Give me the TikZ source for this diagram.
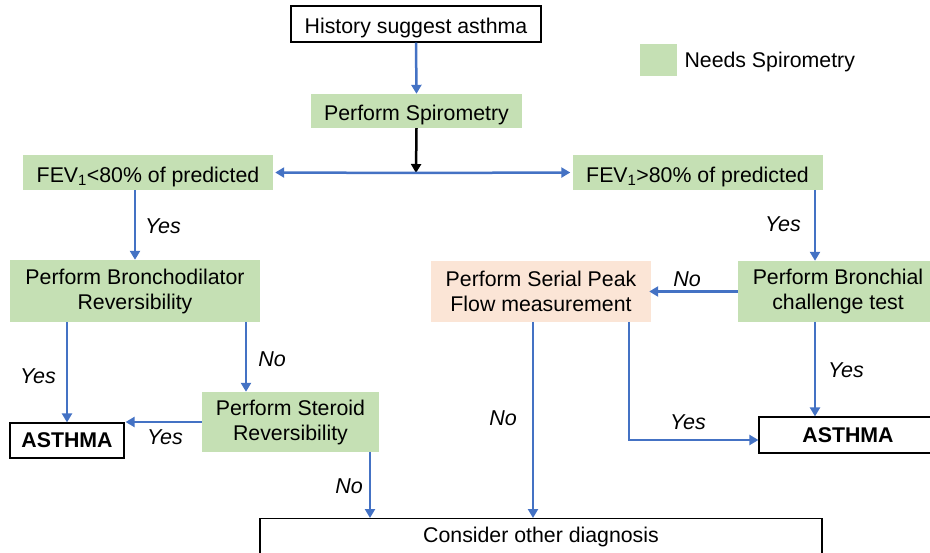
\documentclass[tikz,border=0pt]{standalone}
\usepackage{fontspec}
\setmainfont{Liberation Sans}
\usetikzlibrary{arrows.meta}
\definecolor{boxgreen}{RGB}{197,224,180}
\definecolor{boxpeach}{RGB}{251,229,214}
\definecolor{arrblue}{RGB}{68,114,196}
\begin{document}
\begin{tikzpicture}[x=1pt,y=-1pt,
  txt/.style={font=\fontsize{21.3}{25}\selectfont},
  lbl/.style={font=\fontsize{21.5}{25}\selectfont\itshape},
  oneline/.style={text height=20pt,text depth=0.8pt},
  gbox/.style={txt,fill=boxgreen,inner sep=0pt,align=center},
  pbox/.style={txt,fill=boxpeach,inner sep=0pt,align=center},
  wbox/.style={txt,draw=black,line width=1.2pt,fill=white,inner sep=0pt,align=center},
  arr/.style={draw=arrblue,line width=2.5pt,-{Triangle[length=9pt,width=10pt]}},
  ln/.style={draw=arrblue,line width=2.5pt}]
\useasboundingbox (0,0) rectangle (930,553);
% nodes
\node[wbox,oneline,minimum width=250pt,minimum height=36pt] (hist) at (416,24) {History suggest asthma};
\node[gbox,oneline,minimum width=211pt,minimum height=34pt] (spiro) at (416.5,111) {Perform Spirometry};
\node[gbox,oneline,minimum width=250pt,minimum height=35pt] (fevlo) at (148,172.5) {FEV\textsubscript{1}<80\% of predicted};
\node[gbox,oneline,minimum width=250pt,minimum height=35pt] (fevhi) at (697.5,172.5) {FEV\textsubscript{1}>80\% of predicted};
\node[gbox,minimum width=250pt,minimum height=62pt] (bdil) at (135,291) {Perform Bronchodilator\\Reversibility};
\node[gbox,minimum width=177pt,minimum height=60pt] (ster) at (290.5,422) {Perform Steroid\\Reversibility};
\node[wbox,minimum width=114pt,minimum height=35pt,font=\fontsize{21.3}{25}\selectfont\bfseries] (asthL) at (67,440.5) {ASTHMA};
\node[pbox,minimum width=220pt,minimum height=61pt] (serial) at (541,291.5) {Perform Serial Peak\\Flow measurement};
\node[gbox,minimum width=200pt,minimum height=61pt] (bron) at (838,291.5) {Perform Bronchial\\challenge test};
\node[wbox,minimum width=178pt,minimum height=36pt,font=\fontsize{21.3}{25}\selectfont\bfseries] (asthR) at (848,435) {ASTHMA};
\node[wbox,minimum width=562pt,minimum height=60pt,anchor=north] (cons) at (541,518) {};
\node[txt] (constxt) at (541,537) {Consider other diagnosis};
% legend
\node[fill=boxgreen,minimum width=37pt,minimum height=32pt,inner sep=0pt] (leg) at (658.5,60) {};
\node[txt,anchor=west] (legtxt) at (681,62) {Needs Spirometry};
% connectors
\draw[arr] (hist.south) -- (spiro.north);
\coordinate (split) at (416,173);
\draw[line width=2.5pt,-{Triangle[length=9pt,width=10pt]}] (spiro.south) -- (split);
\draw[arr] (split) -- ([xshift=2pt]fevlo.east);
\draw[arr] (split) -- ([xshift=-2pt]fevhi.west);
\draw[arr] (fevlo.south -| bdil.north) -- (bdil.north);
\node[lbl] (y1) at (163,226) {Yes};
\draw[arr] (bdil.south -| asthL.north) -- (asthL.north);
\node[lbl] (y2) at (38,376) {Yes};
\coordinate (b2) at (246,322);
\draw[arr] (b2) -- (b2 |- ster.north);
\node[lbl] (n1) at (272,359) {No};
\coordinate (s1) at (202,422);
\draw[arr] (ster.west) -- ([xshift=1pt]asthL.east |- s1);
\node[lbl] (y3) at (165,437) {Yes};
\coordinate (s2) at (370,452);
\draw[arr] (s2) -- (s2 |- cons.north);
\node[lbl] (n2) at (349,486) {No};
\coordinate (f2) at (815,190);
\draw[arr] (f2) -- (f2 |- bron.north);
\node[lbl] (y4) at (783,224) {Yes};
\draw[arr] (bron.west) -- ([xshift=-2pt]serial.east);
\node[lbl] (n3) at (687,279) {No};
\coordinate (b3) at (815,322);
\draw[arr] (b3) -- (b3 |- asthR.north);
\node[lbl] (y5) at (846,370) {Yes};
\coordinate (p1) at (533,322);
\draw[arr] (p1) -- (p1 |- cons.north);
\node[lbl] (n4) at (503,418) {No};
\coordinate (p2) at (629,322);
\coordinate (p3) at (629,440);
\draw[arr] (p2) -- (p3) -- (asthR.west |- p3);
\node[lbl] (y6) at (688,422) {Yes};
\end{tikzpicture}
\end{document}
